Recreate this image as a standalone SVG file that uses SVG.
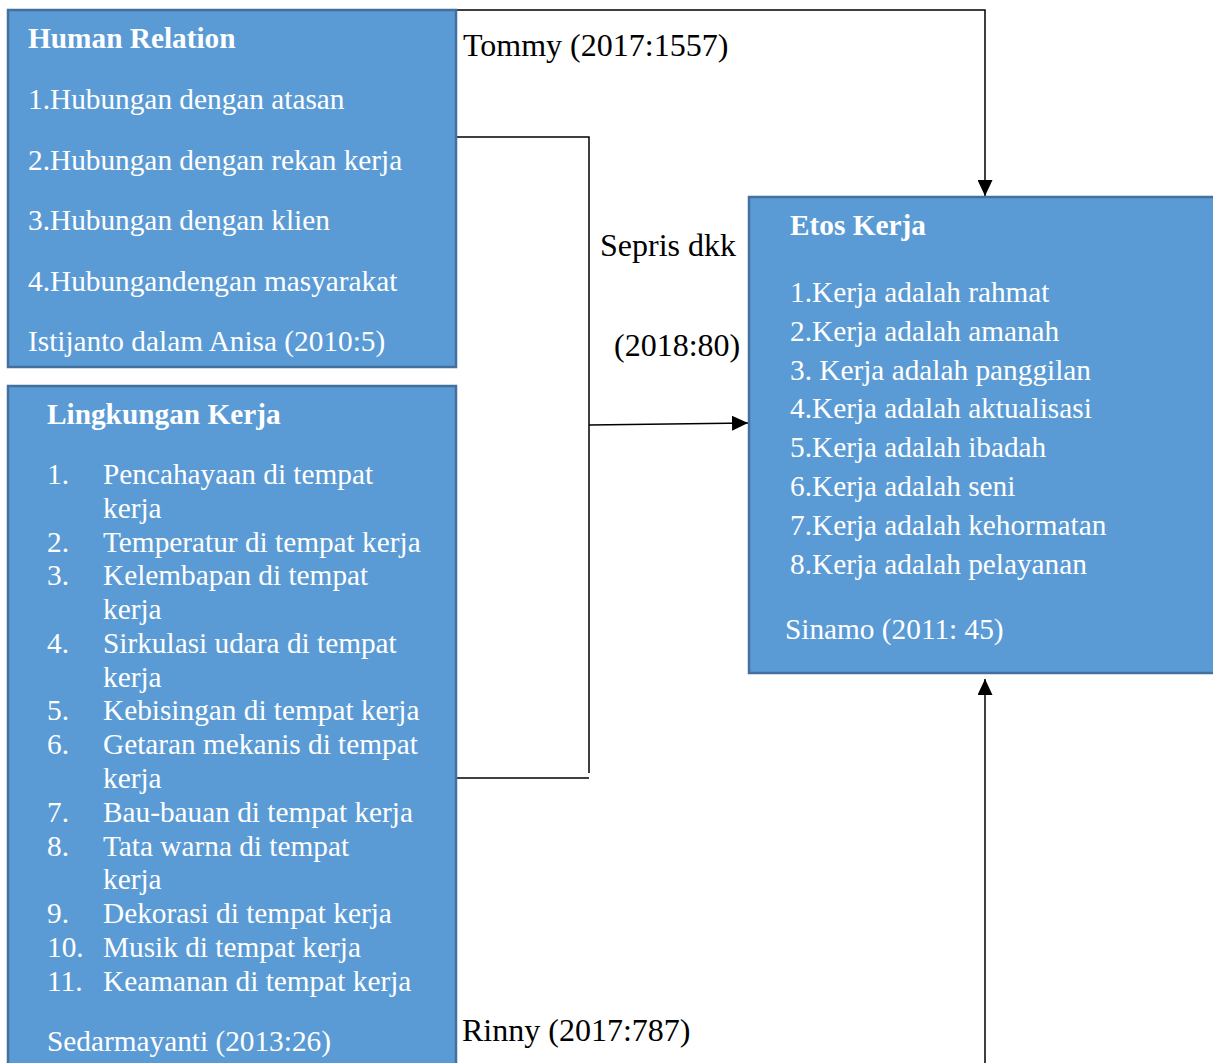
<svg xmlns="http://www.w3.org/2000/svg" width="1213" height="1063" viewBox="0 0 1213 1063">
<defs>
<style>
.box{fill:#5B9BD5;stroke:#41719C;stroke-width:2.5}
.t{font-family:"Liberation Serif","Times New Roman",serif;font-size:29.3px;fill:#ffffff}
.b{font-weight:bold}
.lbl{font-family:"Liberation Serif","Times New Roman",serif;font-size:32px;fill:#000000}
.ln{fill:none;stroke:#000000;stroke-width:1.5}
</style>
<marker id="ah2" viewBox="0 0 16 15" refX="16" refY="7.5" markerWidth="16" markerHeight="15" markerUnits="userSpaceOnUse" orient="auto">
<path d="M0,0 L16,7.5 L0,15 z" fill="#000000"/>
</marker>
</defs>
<rect width="1213" height="1063" fill="#ffffff"/>
<g id="connectors">
<polyline class="ln" points="456,10 985,10 985,196" marker-end="url(#ah2)"/>
<polyline class="ln" points="456,137 589,137 589,773"/>
<line class="ln" x1="456" y1="778" x2="589" y2="778"/>
<line class="ln" x1="589" y1="425" x2="748" y2="423" marker-end="url(#ah2)"/>
<line class="ln" x1="985" y1="1063" x2="985" y2="679" marker-end="url(#ah2)"/>
</g>
<g id="node-human-relation">
<rect class="box" x="8" y="10" width="448" height="357"/>
<text class="t b" x="28" y="48">Human Relation</text>
<text class="t" x="28" y="109">1.Hubungan dengan atasan</text>
<text class="t" x="28" y="170">2.Hubungan dengan rekan kerja</text>
<text class="t" x="28" y="230">3.Hubungan dengan klien</text>
<text class="t" x="28" y="291">4.Hubungandengan masyarakat</text>
<text class="t" x="28" y="351">Istijanto dalam Anisa (2010:5)</text>
</g>
<g id="node-lingkungan-kerja">
<rect class="box" x="8" y="386" width="448" height="700"/>
<text class="t b" x="47" y="424">Lingkungan Kerja</text>
<text class="t" x="47" y="484">1.</text><text class="t" x="103" y="484">Pencahayaan di tempat</text>
<text class="t" x="103" y="518">kerja</text>
<text class="t" x="47" y="552">2.</text><text class="t" x="103" y="552">Temperatur di tempat kerja</text>
<text class="t" x="47" y="585">3.</text><text class="t" x="103" y="585">Kelembapan di tempat</text>
<text class="t" x="103" y="619">kerja</text>
<text class="t" x="47" y="653">4.</text><text class="t" x="103" y="653">Sirkulasi udara di tempat</text>
<text class="t" x="103" y="687">kerja</text>
<text class="t" x="47" y="720">5.</text><text class="t" x="103" y="720">Kebisingan di tempat kerja</text>
<text class="t" x="47" y="754">6.</text><text class="t" x="103" y="754">Getaran mekanis di tempat</text>
<text class="t" x="103" y="788">kerja</text>
<text class="t" x="47" y="822">7.</text><text class="t" x="103" y="822">Bau-bauan di tempat kerja</text>
<text class="t" x="47" y="856">8.</text><text class="t" x="103" y="856">Tata warna di tempat</text>
<text class="t" x="103" y="889">kerja</text>
<text class="t" x="47" y="923">9.</text><text class="t" x="103" y="923">Dekorasi di tempat kerja</text>
<text class="t" x="47" y="957">10.</text><text class="t" x="103" y="957">Musik di tempat kerja</text>
<text class="t" x="47" y="991">11.</text><text class="t" x="103" y="991">Keamanan di tempat kerja</text>
<text class="t" x="47" y="1051">Sedarmayanti (2013:26)</text>
</g>
<g id="node-etos-kerja">
<rect class="box" x="749" y="197" width="475" height="476"/>
<text class="t b" x="790" y="235">Etos Kerja</text>
<text class="t" x="790" y="302">1.Kerja adalah rahmat</text>
<text class="t" x="790" y="341">2.Kerja adalah amanah</text>
<text class="t" x="790" y="380">3. Kerja adalah panggilan</text>
<text class="t" x="790" y="418">4.Kerja adalah aktualisasi</text>
<text class="t" x="790" y="457">5.Kerja adalah ibadah</text>
<text class="t" x="790" y="496">6.Kerja adalah seni</text>
<text class="t" x="790" y="535">7.Kerja adalah kehormatan</text>
<text class="t" x="790" y="574">8.Kerja adalah pelayanan</text>
<text class="t" x="785" y="639">Sinamo (2011: 45)</text>
</g>
<g id="labels">
<text class="lbl" x="463" y="56">Tommy (2017:1557)</text>
<text class="lbl" x="600" y="256">Sepris dkk</text>
<text class="lbl" x="614" y="356">(2018:80)</text>
<text class="lbl" x="462" y="1041">Rinny (2017:787)</text>
</g>
</svg>
